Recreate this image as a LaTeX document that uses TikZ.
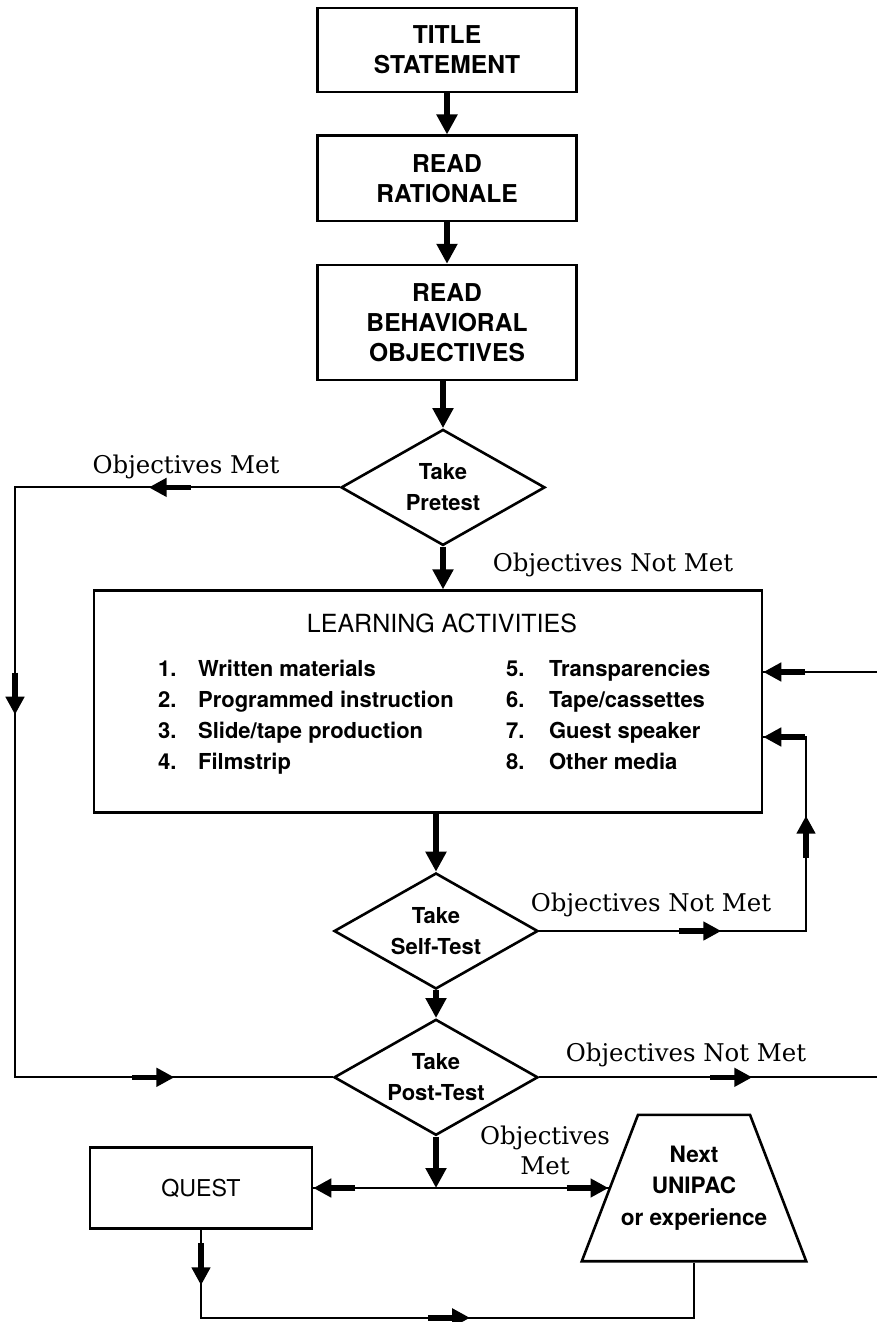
\documentclass[tikz,border=0pt]{standalone}
\usepackage{fontspec}
\setsansfont{TeX Gyre Heros}
\newfontfamily\outcomefont{DejaVu Serif}
\usetikzlibrary{shapes.geometric, arrows.meta, decorations.markings, positioning}
\tikzstyle{box} = [draw, line width=1.3pt, align=center, inner sep=0pt, minimum width=129.5pt, font=\sffamily\bfseries\fontsize{12.3pt}{15pt}\selectfont]
\tikzstyle{test} = [diamond, draw, line width=1.3pt, aspect=2, inner sep=0pt, minimum width=102pt, minimum height=58pt, align=center, font=\sffamily\bfseries\fontsize{11pt}{15.5pt}\selectfont]
\tikzstyle{flow} = [draw, line width=3pt, -{Triangle[length=10pt,width=10pt]}]
\tikzstyle{line} = [draw, line width=1pt]
\tikzstyle{outcome} = [inner sep=0pt, align=center, font=\outcomefont\fontsize{12.2pt}{15pt}\selectfont]
\tikzset{tip at/.style={postaction={decorate, decoration={markings,
  mark=at position #1 with {\draw[line width=2.8pt, -{Triangle[length=9pt,width=9pt]}] (-21pt,0pt) -- (0pt,0pt);}}}}}
\newcommand{\outcome}[3]{
  \node (#1) [outcome] at (#2) {#3};}

\begin{document}
\begin{tikzpicture}[x=0.5pt, y=-0.5pt]
	\useasboundingbox[fill=white] (0,0) rectangle (877,1322);

	% Draw diagram elements
	\node (title) [box, minimum height=42pt] at (447,50) {TITLE\\STATEMENT};
	\path (title.south)+(0,85) node (rat) [box, minimum height=42.5pt] {READ\\RATIONALE};
	\path (rat.south)+(0,100.5) node (beh) [box, minimum height=57.5pt] {READ\\BEHAVIORAL\\OBJECTIVES};
	\path (beh.south)+(-4,106) node (pre) [test] {Take\\Pretest};
	\path (pre.south)+(-15,155) node (learn) [draw, line width=1.3pt, minimum width=334pt, minimum height=111pt] {};
	\path (learn.north)+(14,34) node (head) [font=\sffamily\fontsize{12.5pt}{15pt}\selectfont] {LEARNING ACTIVITIES};
	\path (learn.west)+(65,15) node (media) [anchor=west, inner sep=0pt, font=\sffamily\bfseries\fontsize{11pt}{15.5pt}\selectfont] {%
		\begin{tabular}{@{}p{20pt}@{}p{154pt}@{}p{21.5pt}@{}l@{}}
			1. & Written materials & 5. & Transparencies\\
			2. & Programmed instruction & 6. & Tape/cassettes\\
			3. & Slide/tape production & 7. & Guest speaker\\
			4. & Filmstrip & 8. & Other media
		\end{tabular}};
	\path (learn.south)+(8,117) node (self) [test] {Take\\Self-Test};
	\path (self.south)+(0,87) node (post) [test] {Take\\Post-Test};
	\node (next) [trapezium, draw, line width=1.3pt, trapezium left angle=69, trapezium right angle=69,
		inner xsep=28pt, inner ysep=15.5pt, align=center, font=\sffamily\bfseries\fontsize{11.3pt}{15.75pt}\selectfont]
		at (694,1188) {\makebox[0pt]{Next}\\\makebox[0pt]{UNIPAC}\\\makebox[0pt]{or experience}};
	\node (quest) [box, minimum width=111pt, minimum height=40.5pt, font=\sffamily\fontsize{11.6pt}{14pt}\selectfont] at (201,1188) {QUEST};

	% Outcome labels
	\outcome{metpre}{186,467}{Objectives Met}
	\outcome{notpre}{613,565}{Objectives Not Met}
	\outcome{notself}{651,905}{Objectives Not Met}
	\outcome{notpost}{686,1055}{Objectives Not Met}
	\outcome{metpost}{545,1150}{Objectives\\Met}

	% Corner points of the loops
	\coordinate (lft) at (15,0);
	\coordinate (sloop) at (806,737);
	\coordinate (rtop) at (877,672);
	\coordinate (jn) at (post.south |- next.west);

	% Draw arrows between elements
	\draw[flow] (title) -- (rat);
	\draw[flow] (rat) -- (beh);
	\draw[flow] (beh.south -| pre.north) -- (pre.north);
	\draw[flow] (pre.south) -- (pre.south |- learn.north);
	\draw[flow] (self.north |- learn.south) -- (self.north);
	\draw[flow] (self) -- (post);
	\draw[flow] (post.south) -- (jn);

	\draw[line, tip at=95.5pt, tip at=276pt, tip at=537pt] (pre.west) -- (pre.west -| lft) |- (post.west);
	\draw[line, tip at=91pt, tip at=191pt, tip at=1] (self.east) -| (sloop) -- (sloop -| learn.east);
	\draw[line, tip at=1] (rtop) -- (rtop -| learn.east);
	\draw[line, tip at=106.5pt] (post.east) -- (post.east -| rtop);
	\draw[line, tip at=1] (jn) -- (jn -| quest.east);
	\draw[line, tip at=1] (jn) -- (next.west);
	\draw[line, tip at=27.75pt, tip at=178.5pt] (quest.south) -- ++(0,88) -| (next.south);

\end{tikzpicture}
\end{document}
